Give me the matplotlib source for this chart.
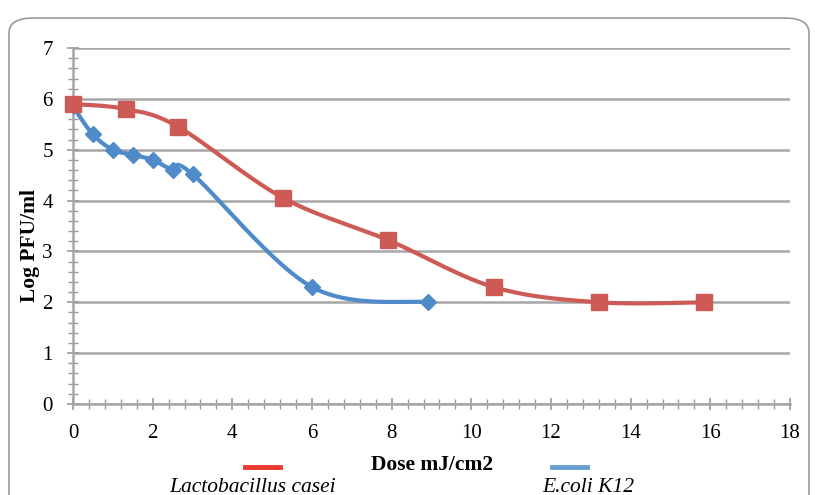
import numpy as np
import matplotlib.pyplot as plt
from matplotlib.lines import Line2D
from matplotlib.patches import FancyBboxPatch

plt.rcParams['font.family'] = ['Liberation Serif', 'DejaVu Serif']

# Lactobacillus casei
lacto_dose = [0, 1.32, 2.64, 5.28, 7.92, 10.56, 13.2, 15.84]
lacto_log = [5.9, 5.8, 5.45, 4.05, 3.22, 2.3, 2.0, 2.0]
lacto_err = [0, 0, 0, 0, 0.1, 0, 0.06, 0.06]

# E.coli K12
ecoli_dose = [0, 0.5, 1.0, 1.5, 2.0, 2.5, 3.0, 6.0, 8.9]
ecoli_log = [5.85, 5.3, 5.0, 4.9, 4.8, 4.6, 4.52, 2.3, 2.0]
ecoli_err = [0, 0, 0, 0.08, 0.1, 0, 0.08, 0.1, 0]

red = '#cd5a55'
blue = '#4f8ac9'


def smooth(xs, ys, n=30):
    # Catmull-Rom curve through the points, like a spreadsheet "smoothed line"
    p = np.column_stack([xs, ys]).astype(float)
    p = np.vstack([p[0], p, p[-1]])
    out = []
    t = np.linspace(0, 1, n)[:, None]
    for i in range(1, len(p) - 2):
        p0, p1, p2, p3 = p[i - 1], p[i], p[i + 1], p[i + 2]
        c1 = p1 + (p2 - p0) / 6
        c2 = p2 - (p3 - p1) / 6
        seg = ((1 - t) ** 3) * p1 + 3 * ((1 - t) ** 2) * t * c1 + 3 * (1 - t) * t ** 2 * c2 + t ** 3 * p2
        out.append(seg)
    seg = np.vstack(out)
    return seg[:, 0], seg[:, 1]


fig = plt.figure(figsize=(8.15, 4.95), dpi=100)

# rounded frame around the chart
frame = FancyBboxPatch((9 / 815, -0.05), 800 / 815, 1 - 18 / 495 + 0.05,
                       boxstyle='round,pad=0,rounding_size=0.03',
                       transform=fig.transFigure, facecolor='none',
                       edgecolor='#9a9a9a', linewidth=1.2, clip_on=False)
fig.patches.append(frame)

ax = fig.add_axes([73 / 815, 1 - 404 / 495, 717 / 815, 356 / 495])

ax.set_xlim(0, 18)
ax.set_ylim(0, 7)
ax.set_xticks(np.arange(0, 19, 2))
ax.set_yticks(np.arange(0, 8, 1))
ax.set_xticks(np.arange(0, 18.01, 0.4), minor=True)
ax.set_yticks(np.arange(0, 7.01, 0.2), minor=True)
ax.tick_params(which='major', direction='inout', length=9, width=1.2, color='#999999',
               labelsize=15)
ax.tick_params(axis='x', which='major', pad=10)
ax.tick_params(axis='y', which='major', pad=10)
ax.tick_params(which='minor', direction='inout', length=7.5, width=1.0, color='#999999')
ax.grid(axis='y', which='major', color='#a6a6a6', linewidth=1.8)
ax.set_axisbelow(True)
for s in ['top', 'right']:
    ax.spines[s].set_visible(False)
for s in ['left', 'bottom']:
    ax.spines[s].set_color('#a6a6a6')
    ax.spines[s].set_linewidth(1.8)

ax.errorbar(lacto_dose, lacto_log, yerr=lacto_err, fmt='none', ecolor='black',
            elinewidth=0.8, capsize=1.5, zorder=3)
ax.errorbar(ecoli_dose, ecoli_log, yerr=ecoli_err, fmt='none', ecolor='black',
            elinewidth=0.8, capsize=1.5, zorder=3)

sx, sy = smooth(ecoli_dose, ecoli_log)
ax.plot(sx, sy, color=blue, linewidth=3, zorder=4, solid_capstyle='round')
ax.plot(ecoli_dose, ecoli_log, linestyle='none', marker='D', markersize=8,
        color=blue, zorder=5)

sx, sy = smooth(lacto_dose, lacto_log)
ax.plot(sx, sy, color=red, linewidth=3, zorder=6, solid_capstyle='round')
ax.plot(lacto_dose, lacto_log, linestyle='none', marker='s', markersize=11,
        color=red, zorder=7, clip_on=False)

fig.text(30 / 815, 1 - 246 / 495, 'Log PFU/ml', ha='center', va='center',
         rotation=90, fontsize=15.5, fontweight='bold')
fig.text(432 / 815, 1 - 465 / 495, 'Dose mJ/cm2', ha='center', va='center',
         fontsize=15.5, fontweight='bold')

# legend entries below the axis
fig.add_artist(Line2D([245 / 815, 280 / 815], [1 - 467 / 495] * 2,
                      color='#ee3a2c', linewidth=3.5, transform=fig.transFigure))
fig.text(253 / 815, 1 - 487 / 495, 'Lactobacillus casei', ha='center', va='center',
         fontsize=15.5, fontstyle='italic')
fig.add_artist(Line2D([552 / 815, 587 / 815], [1 - 467 / 495] * 2,
                      color='#6a9fd4', linewidth=3.5, transform=fig.transFigure))
fig.text(588 / 815, 1 - 487 / 495, 'E.coli K12', ha='center', va='center',
         fontsize=15.5, fontstyle='italic')

fig.savefig('out.png', dpi=100)
